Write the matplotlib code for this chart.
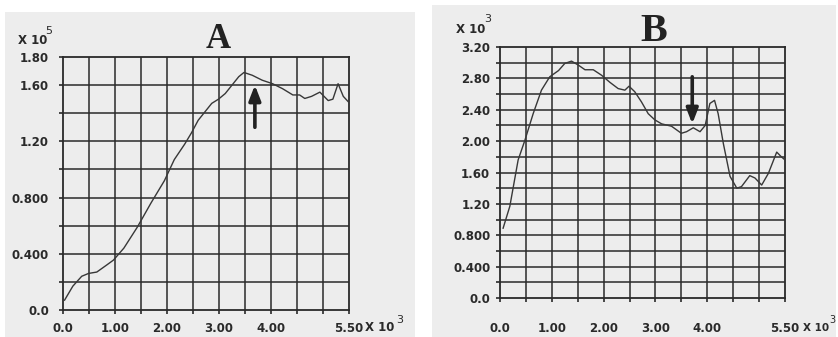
import numpy as np
import matplotlib
matplotlib.use('Agg')
import matplotlib.pyplot as plt
from matplotlib.patches import Rectangle

# panel A: x in units of 10^3, y in units of 10^5
a_x = [0.03, 0.19, 0.36, 0.49, 0.65, 0.84, 0.97, 1.17, 1.43, 1.69, 1.95, 2.14, 2.34,
       2.47, 2.60, 2.73, 2.86, 2.99, 3.12, 3.25, 3.38, 3.48, 3.64, 3.83, 4.03, 4.22,
       4.42, 4.55, 4.65, 4.78, 4.94, 5.10, 5.19, 5.29, 5.39, 5.49]
a_y = [0.07, 0.17, 0.24, 0.26, 0.27, 0.32, 0.355, 0.44, 0.59, 0.76, 0.92, 1.07, 1.18,
       1.26, 1.35, 1.41, 1.47, 1.50, 1.54, 1.60, 1.66, 1.69, 1.67, 1.635, 1.61, 1.575,
       1.53, 1.53, 1.505, 1.52, 1.55, 1.49, 1.50, 1.61, 1.52, 1.48]

# panel B: x in units of 10^3, y in units of 10^3
b_x = [0.06, 0.19, 0.35, 0.48, 0.64, 0.80, 0.96, 1.13, 1.25, 1.38, 1.51, 1.64, 1.80,
       1.96, 2.12, 2.28, 2.41, 2.49, 2.60, 2.73, 2.86, 2.99, 3.12, 3.31, 3.50, 3.60,
       3.73, 3.86, 3.96, 4.05, 4.14, 4.21, 4.31, 4.44, 4.57, 4.66, 4.82, 4.92, 5.05,
       5.18, 5.34, 5.43, 5.50]
b_y = [0.89, 1.17, 1.76, 2.01, 2.35, 2.65, 2.82, 2.90, 2.99, 3.02, 2.97, 2.91, 2.91,
       2.84, 2.75, 2.67, 2.65, 2.70, 2.63, 2.50, 2.35, 2.27, 2.22, 2.19, 2.10, 2.12,
       2.17, 2.12, 2.20, 2.48, 2.52, 2.35, 1.97, 1.55, 1.40, 1.42, 1.56, 1.53, 1.44,
       1.59, 1.86, 1.80, 1.76]

x_ticks = [0, 1, 2, 3, 4, 5.5]
x_labels = ['0.0', '1.00', '2.00', '3.00', '4.00', '5.50']
a_yticks = [0, 0.4, 0.8, 1.2, 1.6, 1.8]
a_ylabels = ['0.0', '0.400', '0.800', '1.20', '1.60', '1.80']
b_yticks = [0, 0.4, 0.8, 1.2, 1.6, 2.0, 2.4, 2.8, 3.2]
b_ylabels = ['0.0', '0.400', '0.800', '1.20', '1.60', '2.00', '2.40', '2.80', '3.20']

W, H = 838, 337
ink = '#2a2a2a'
paper = '#ededed'
tick_font = dict(family=['Liberation Sans Narrow', 'DejaVu Sans'], fontweight='bold',
                 fontsize=8.5, color=ink)
sup_font = dict(family='DejaVu Sans', fontsize=8, color=ink)

fig = plt.figure(figsize=(W / 100, H / 100), dpi=100)
fig.patch.set_facecolor('white')
fig.add_artist(Rectangle((5 / W, 0), 410 / W, 1 - 12 / H, transform=fig.transFigure,
                         facecolor=paper, edgecolor='none', zorder=-10))
fig.add_artist(Rectangle((432 / W, 0), 404 / W, 1 - 5 / H, transform=fig.transFigure,
                         facecolor=paper, edgecolor='none', zorder=-10))


def px_text(x, y, s, va='baseline', **kw):
    # place text at pixel coordinates measured from the top-left corner
    fig.text(x / W, 1 - y / H, s, ha='left', va=va, **kw)


def panel(rect, xs, ys, ymax, yticks, ylabels, xpad, ypad):
    l, t, r, b = rect
    ax = fig.add_axes([l / W, 1 - b / H, (r - l) / W, (b - t) / H])
    ax.set_facecolor(paper)
    ax.set_xlim(0, 5.5)
    ax.set_ylim(0, ymax)
    for gx in np.arange(0.5, 5.5, 0.5):
        ax.axvline(gx, color=ink, lw=1.1, zorder=1)
    for gy in np.arange(0.2, ymax - 0.01, 0.2):
        ax.axhline(gy, color=ink, lw=1.1, zorder=1)
    ax.plot(xs, ys, color='#383838', lw=1.0, zorder=3)
    for s in ax.spines.values():
        s.set_color(ink)
        s.set_linewidth(1.3)
    ax.set_xticks(np.arange(0, 5.51, 0.5), minor=True)
    ax.set_yticks(np.arange(0, ymax + 0.01, 0.2), minor=True)
    ax.set_xticks(x_ticks)
    ax.set_xticklabels(x_labels, **tick_font)
    ax.set_yticks(yticks)
    ax.set_yticklabels(ylabels, **tick_font)
    ax.tick_params(which='both', direction='out', length=3, width=1.2, color=ink)
    ax.tick_params(axis='x', which='major', pad=xpad)
    ax.tick_params(axis='y', which='major', pad=ypad)
    return ax


ax_a = panel((63, 57, 349, 310), a_x, a_y, 1.8, a_yticks, a_ylabels, 6, 7)
ax_a.annotate('', xy=(3.69, 1.60), xytext=(3.69, 1.30),
              arrowprops=dict(arrowstyle='-|>,head_width=0.35,head_length=0.9',
                              lw=2.6, color='#222222', shrinkA=0, shrinkB=0), zorder=5)
px_text(220 - 14, 48, 'A', family='Liberation Serif', fontweight='bold', fontsize=25,
        color='#222222')
px_text(18, 44, 'X 10', **tick_font)
px_text(45, 34, '5', **sup_font)
px_text(365, 331, 'X 10', **tick_font)
px_text(396, 323, '3', **sup_font)

ax_b = panel((500, 47, 785, 298), b_x, b_y, 3.2, b_yticks, b_ylabels, 14, 4)
ax_b.annotate('', xy=(3.71, 2.22), xytext=(3.71, 2.82),
              arrowprops=dict(arrowstyle='-|>,head_width=0.35,head_length=0.9',
                              lw=2.6, color='#222222', shrinkA=0, shrinkB=0), zorder=5)
px_text(655 - 15, 41, 'B', family='Liberation Serif', fontweight='bold', fontsize=29,
        color='#222222')
px_text(456, 33, 'X 10', **tick_font)
px_text(484, 22, '3', **sup_font)
px_text(803, 331, 'X 10', family=['Liberation Sans Narrow', 'DejaVu Sans'],
        fontweight='bold', fontsize=7.5, color=ink)
px_text(829, 323, '3', family='DejaVu Sans', fontsize=7, color=ink)

fig.savefig('out.png', dpi=100, facecolor=fig.get_facecolor())
